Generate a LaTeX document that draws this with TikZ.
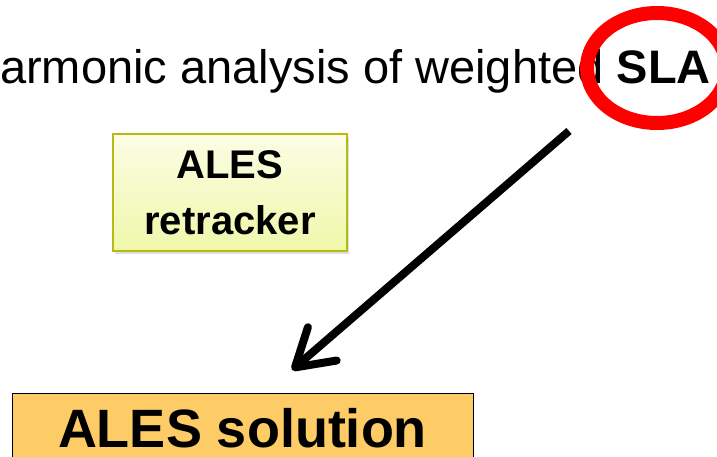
\documentclass[tikz,border=0pt]{standalone}
\usepackage{fontspec}
\setmainfont{Liberation Sans}
\usetikzlibrary{arrows.meta,shadows}
\definecolor{ringred}{RGB}{255,0,0}
\definecolor{retrackdraw}{RGB}{182,186,18}
\definecolor{retracktop}{RGB}{251,253,228}
\definecolor{retrackbot}{RGB}{238,248,170}
\definecolor{solfill}{RGB}{254,204,102}
\begin{document}
\begin{tikzpicture}[x=1pt,y=-1pt,
    retrackbox/.style={draw=retrackdraw,line width=1.5pt,top color=retracktop,bottom color=retrackbot,
      drop shadow={opacity=0.25,shadow xshift=2pt,shadow yshift=-3pt},align=center,inner sep=0pt,
      minimum width=234pt,minimum height=117pt,font=\fontsize{40}{56}\selectfont\bfseries},
    solbox/.style={draw=black,line width=1pt,fill=solfill,inner ysep=17pt,text height=37pt,text depth=30pt,
      minimum width=461pt,font=\fontsize{54}{56}\selectfont\bfseries}]
  \useasboundingbox (0,0) rectangle (717,456);
  \clip (0,0) rectangle (717,456);
  \node[anchor=base west,inner sep=0pt,font=\fontsize{47}{50}\selectfont] (title) at (0,83) {armonic analysis of weighted \textbf{SLA}};
  \draw[ringred,line width=14pt] (657,68) circle [x radius=70, y radius=55];
  \node[retrackbox] (retracker) at (230,192.5) {ALES\\retracker};
  \node[solbox,anchor=base] (solution) at (242.5,447) {ALES solution};
  \coordinate (tail) at (569,131);
  \coordinate (tip) at (292,370);
  \draw[line width=8pt,-{Straight Barb[length=36pt,width=44pt,round]}] (tail) -- (tip);
\end{tikzpicture}
\end{document}
